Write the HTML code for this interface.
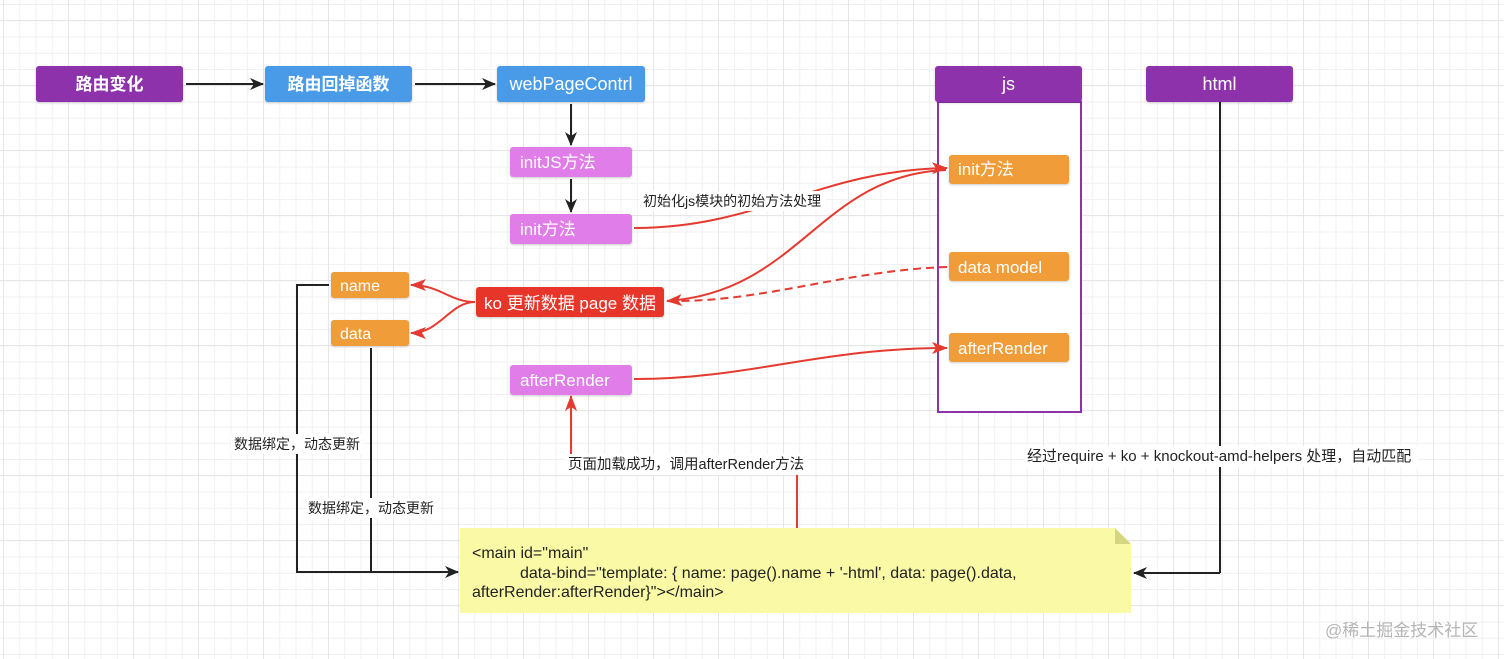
<!DOCTYPE html>
<html><head><meta charset="utf-8"><style>
html,body{margin:0;padding:0;background:#fff;}
body{width:1504px;height:659px;overflow:hidden;position:relative;
background-image:
linear-gradient(#e6e6e6 1px,transparent 1px),linear-gradient(90deg,#e6e6e6 1px,transparent 1px),
linear-gradient(#f1f1f1 1px,transparent 1px),linear-gradient(90deg,#f1f1f1 1px,transparent 1px);
background-size:65px 65px,65px 65px,16.25px 16.25px,16.25px 16.25px;
background-position:0 20px,3px 0,0 4px,3px 0;}
svg{position:absolute;left:0;top:0}
text{font-family:"Liberation Sans","Noto Sans CJK SC",sans-serif;}
</style></head><body>
<svg width="1504" height="659" viewBox="0 0 1504 659">
<defs>
<marker id="ab" markerWidth="14" markerHeight="12" refX="13" refY="6" orient="auto" markerUnits="userSpaceOnUse"><path d="M0,0 L14,6 L0,12 L4,6z" fill="#222"/></marker>
<marker id="ar" markerWidth="16" markerHeight="12" refX="15" refY="6" orient="auto" markerUnits="userSpaceOnUse"><path d="M0,0 L16,6 L0,12 L4,6z" fill="#e53a30"/></marker>
<filter id="sh" x="-5%" y="-10%" width="110%" height="130%"><feDropShadow dx="0" dy="1" stdDeviation="1" flood-opacity="0.2"/></filter>
</defs>
<rect x="938" y="102" width="143" height="310" fill="#fff" stroke="#8d33aa" stroke-width="2"/>
<line x1="1220" y1="102" x2="1220" y2="573" stroke="#222" stroke-width="2"/>
<polyline points="1220,573 1134,573" fill="none" stroke="#222" stroke-width="2" marker-end="url(#ab)"/>
<line x1="186" y1="84" x2="263" y2="84" stroke="#222" stroke-width="2" marker-end="url(#ab)"/>
<line x1="415" y1="84" x2="495" y2="84" stroke="#222" stroke-width="2" marker-end="url(#ab)"/>
<line x1="571" y1="104" x2="571" y2="145" stroke="#222" stroke-width="2" marker-end="url(#ab)"/>
<line x1="571" y1="179" x2="571" y2="212" stroke="#222" stroke-width="2" marker-end="url(#ab)"/>
<polyline points="329,285 297,285 297,572 458,572" fill="none" stroke="#222" stroke-width="2" marker-end="url(#ab)"/>
<line x1="371" y1="348" x2="371" y2="572" stroke="#222" stroke-width="2"/>
<path d="M634,228 C760,228 820,170 947,168" fill="none" stroke="#e53a30" stroke-width="2" marker-end="url(#ar)"/>
<path d="M946,170 C820,175 800,292 667,301" fill="none" stroke="#e53a30" stroke-width="2" marker-end="url(#ar)"/>
<path d="M947,267 C850,270 770,300 680,301" fill="none" stroke="#e53a30" stroke-width="2" stroke-dasharray="8,5"/>
<path d="M475,302 C450,302 440,285 411,285" fill="none" stroke="#e53a30" stroke-width="2" marker-end="url(#ar)"/>
<path d="M475,302 C450,302 440,333 411,333" fill="none" stroke="#e53a30" stroke-width="2" marker-end="url(#ar)"/>
<path d="M634,379 C750,379 820,348 947,348" fill="none" stroke="#e53a30" stroke-width="2" marker-end="url(#ar)"/>
<polyline points="797,528 797,464 571,464 571,396" fill="none" stroke="#e53a30" stroke-width="2" marker-end="url(#ar)"/>
<g filter="url(#sh)">
<rect x="36" y="66" width="147" height="36" rx="3" fill="#8d33aa"/>
<rect x="265" y="66" width="147" height="36" rx="3" fill="#4a9be8"/>
<rect x="497" y="66" width="148" height="36" rx="3" fill="#4a9be8"/>
<rect x="935" y="66" width="147" height="36" rx="3" fill="#8d33aa"/>
<rect x="1146" y="66" width="147" height="36" rx="3" fill="#8d33aa"/>
<rect x="510" y="147" width="122" height="30" rx="3" fill="#e07de8"/>
<rect x="510" y="214" width="122" height="30" rx="3" fill="#e07de8"/>
<rect x="510" y="365" width="122" height="30" rx="3" fill="#e07de8"/>
<rect x="949" y="155" width="120" height="29" rx="3" fill="#f09c38"/>
<rect x="949" y="252" width="120" height="29" rx="3" fill="#f09c38"/>
<rect x="949" y="333" width="120" height="29" rx="3" fill="#f09c38"/>
<rect x="331" y="272" width="78" height="26" rx="3" fill="#f09c38"/>
<rect x="331" y="320" width="78" height="26" rx="3" fill="#f09c38"/>
<rect x="476" y="287" width="188" height="30" rx="3" fill="#e8352a"/>
</g>
<text x="109.5" y="90" fill="#fff" font-size="17" font-weight="bold" text-anchor="middle">路由变化</text>
<text x="338.5" y="90" fill="#fff" font-size="17" font-weight="bold" text-anchor="middle">路由回掉函数</text>
<text x="571" y="90" fill="#fff" font-size="18" text-anchor="middle">webPageContrl</text>
<text x="1008.5" y="90" fill="#fff" font-size="18" text-anchor="middle">js</text>
<text x="1219.5" y="90" fill="#fff" font-size="18" text-anchor="middle">html</text>
<text x="520" y="168" fill="#fff" font-size="17">initJS方法</text>
<text x="520" y="235" fill="#fff" font-size="17">init方法</text>
<text x="520" y="386" fill="#fff" font-size="17">afterRender</text>
<text x="958" y="175" fill="#fff" font-size="17">init方法</text>
<text x="958" y="273" fill="#fff" font-size="17">data model</text>
<text x="958" y="354" fill="#fff" font-size="17">afterRender</text>
<text x="340" y="291" fill="#fff" font-size="16">name</text>
<text x="340" y="339" fill="#fff" font-size="16">data</text>
<text x="570" y="309" fill="#fff" font-size="17" text-anchor="middle">ko 更新数据 page 数据</text>
<rect x="640" y="191" width="186" height="20" fill="#fff"/>
<text x="643" y="206" fill="#222" font-size="14">初始化js模块的初始方法处理</text>
<rect x="231" y="434" width="132" height="20" fill="#fff"/>
<text x="234" y="449" fill="#222" font-size="14">数据绑定，动态更新</text>
<rect x="305" y="498" width="132" height="20" fill="#fff"/>
<text x="308" y="513" fill="#222" font-size="14">数据绑定，动态更新</text>
<rect x="564" y="454" width="243" height="21" fill="#fff"/>
<text x="568" y="469" fill="#222" font-size="14.5">页面加载成功，调用afterRender方法</text>
<rect x="1024" y="446" width="394" height="21" fill="#fff"/>
<text x="1027" y="461" fill="#222" font-size="15">经过require + ko + knockout-amd-helpers 处理，自动匹配</text>
<path d="M460,528 L1115,528 L1131,544 L1131,613 L460,613z" fill="#fafaa6"/>
<path d="M1115,528 L1131,544 L1115,544z" fill="#d6d67e"/>
<text fill="#222" font-size="16">
<tspan x="472" y="558">&lt;main id="main"</tspan>
<tspan x="520" y="578">data-bind="template: { name: page().name + '-html', data: page().data,</tspan>
<tspan x="472" y="597">afterRender:afterRender}"&gt;&lt;/main&gt;</tspan>
</text>
<text x="1325" y="636" fill="#b5b5b5" font-size="17">@稀土掘金技术社区</text>
</svg>
</body></html>
